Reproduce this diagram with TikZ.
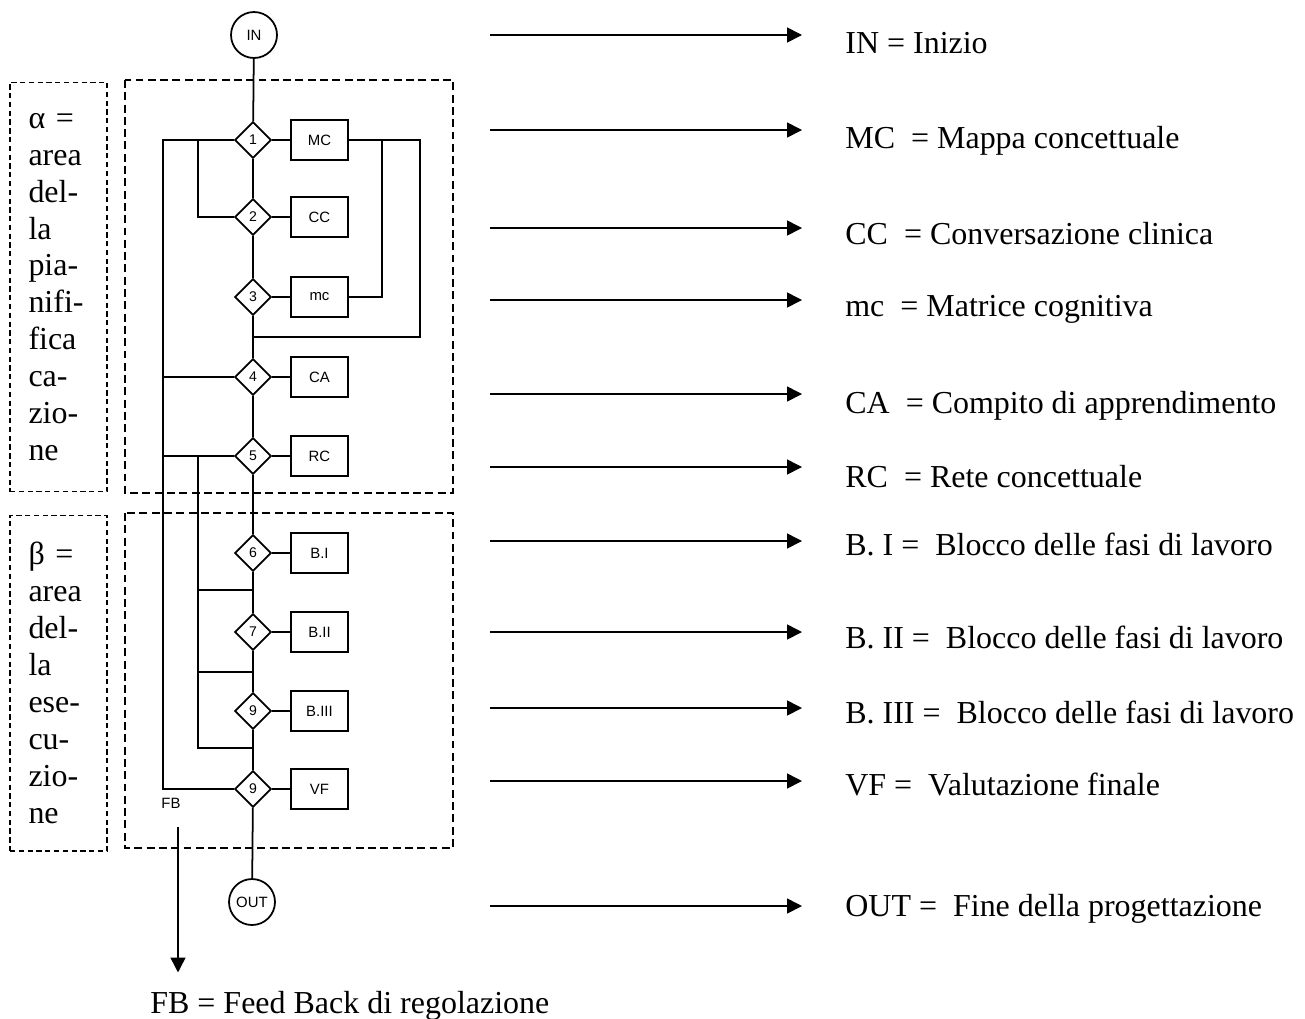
\documentclass[tikz,border=0pt]{standalone}
\usepackage{fontspec}
\setmainfont{Liberation Serif}
\setsansfont{Liberation Sans}
\usepackage{tikz}
\usetikzlibrary{shapes.geometric,arrows.meta,positioning,calc}

\begin{document}
\begin{tikzpicture}[
  x=0.02cm, y=-0.02cm,
  font=\fontsize{18.2}{21}\selectfont,
  node distance=0.36cm,
  line/.style={line width=1pt},
  area/.style={line width=1pt,dash pattern=on 4.5pt off 2.5pt},
  areabox/.style={draw,line width=0.6pt,dash pattern=on 3pt off 2pt,minimum width=1.94cm,text width=1.2cm,align=left,inner sep=0pt},
  dec/.style={draw,diamond,line width=1pt,minimum width=0.73cm,minimum height=0.73cm,inner sep=0pt,font=\sffamily\fontsize{8}{9}\selectfont},
  act/.style={draw,line width=1pt,minimum width=1.14cm,minimum height=0.8cm,inner sep=0pt,font=\sffamily\fontsize{8.5}{9}\selectfont},
  term/.style={draw,circle,line width=1pt,minimum size=0.92cm,inner sep=0pt,font=\sffamily\fontsize{8.5}{9}\selectfont},
  legend/.style={anchor=base west,inner sep=0pt},
  arrow/.style={-{Triangle[length=8.5pt,width=8.5pt]},line width=0.9pt},
]
\useasboundingbox (0,0) rectangle (1305,1018);

% areas
\node[areabox,minimum height=8.2cm] (alpha) at (58.5,287) {α =\\area\\del-\\la\\pia-\\nifi-\\fica\\ca-\\zio-\\ne};
\node[areabox,minimum height=6.72cm] (beta) at (58.5,683) {β =\\area\\del-\\la\\ese-\\cu-\\zio-\\ne};
\draw[area] (125,80) rectangle (453,493);
\draw[area] (125,513) rectangle (453,848);

% flow chart
\node[term] (in) at (254,35) {IN};
\node[dec] (d1) at (253,140) {1};
\node[dec] (d2) at (253,217) {2};
\node[dec] (d3) at (253,297) {3};
\node[dec] (d4) at (253,377) {4};
\node[dec] (d5) at (253,456) {5};
\node[dec] (d6) at (253,553) {6};
\node[dec] (d7) at (253,632) {7};
\node[dec] (d8) at (253,711) {9};
\node[dec] (d9) at (253,789) {9};
\node[term] (out) at (252,902) {OUT};

\node[act, right=of d1] (b1) {MC};
\node[act, right=of d2] (b2) {CC};
\node[act, right=of d3] (b3) {mc};
\node[act, right=of d4] (b4) {CA};
\node[act, right=of d5] (b5) {RC};
\node[act, right=of d6] (b6) {B.I};
\node[act, right=of d7] (b7) {B.II};
\node[act, right=of d8] (b8) {B.III};
\node[act, right=of d9] (b9) {VF};

\draw[line] (in) -- (d1) -- (d2) -- (d3) -- (d4) -- (d5) -- (d6) -- (d7) -- (d8) -- (d9) -- (out);
\draw[line] (d1) -- (b1);
\draw[line] (d2) -- (b2);
\draw[line] (d3) -- (b3);
\draw[line] (d4) -- (b4);
\draw[line] (d5) -- (b5);
\draw[line] (d6) -- (b6);
\draw[line] (d7) -- (b7);
\draw[line] (d8) -- (b8);
\draw[line] (d9) -- (b9);

% feed back lines
\coordinate (fbo) at (163,140);
\coordinate (fbi) at (198,140);
\coordinate (mco) at (420,140);
\coordinate (mci) at (382,140);
\coordinate (j3) at (253,337);
\coordinate (j6) at (253,590);
\coordinate (j7) at (253,672);
\coordinate (j8) at (253,748);
\draw[line] (d1) -- (fbo) |- (d9);
\draw[line] (fbi) |- (d2);
\draw[line] (d4) -- (d4 -| fbo);
\draw[line] (d5) -- (d5 -| fbo);
\draw[line] (d5 -| fbi) |- (j8);
\draw[line] (j6 -| fbi) -- (j6);
\draw[line] (j7 -| fbi) -- (j7);
\draw[line] (b1) -- (mco) |- (j3);
\draw[line] (mci) |- (b3);

\node[font=\sffamily\fontsize{8.5}{9}\selectfont] (fb) at (171,803) {FB};
\node[legend] (tfb) at (150,1013) {FB = Feed Back di regolazione};
\coordinate (fbs) at (178,827);
\draw[arrow,shorten >=0.36cm] (fbs) -- (fbs |- tfb.north);

% legend
\node[legend] (tin) at (845,53) {IN = Inizio};
\node[legend] (tmc) at (845,148) {MC\ \ = Mappa concettuale};
\node[legend] (tcc) at (845,244) {CC\ \ = Conversazione clinica};
\node[legend] (tmm) at (845,316) {mc\ \ = Matrice cognitiva};
\node[legend] (tca) at (845,413) {CA\ \ = Compito di apprendimento};
\node[legend] (trc) at (845,487) {RC\ \ = Rete concettuale};
\node[legend] (tb1) at (845,555) {B. I =\ \ Blocco delle fasi di lavoro};
\node[legend] (tb2) at (845,648) {B. II =\ \ Blocco delle fasi di lavoro};
\node[legend] (tb3) at (845,723) {B. III =\ \ Blocco delle fasi di lavoro};
\node[legend] (tvf) at (845,795) {VF =\ \ Valutazione finale};
\node[legend] (tout) at (845,916) {OUT =\ \ Fine della progettazione};

\coordinate (a1) at (490,35);
\coordinate (a2) at (490,130);
\coordinate (a3) at (490,228);
\coordinate (a4) at (490,300);
\coordinate (a5) at (490,394);
\coordinate (a6) at (490,467);
\coordinate (a7) at (490,541);
\coordinate (a8) at (490,632);
\coordinate (a9) at (490,708);
\coordinate (a10) at (490,781);
\coordinate (a11) at (490,906);
\draw[arrow,shorten >=0.86cm] (a1) -- (a1 -| tin.west);
\draw[arrow,shorten >=0.86cm] (a2) -- (a2 -| tmc.west);
\draw[arrow,shorten >=0.86cm] (a3) -- (a3 -| tcc.west);
\draw[arrow,shorten >=0.86cm] (a4) -- (a4 -| tmm.west);
\draw[arrow,shorten >=0.86cm] (a5) -- (a5 -| tca.west);
\draw[arrow,shorten >=0.86cm] (a6) -- (a6 -| trc.west);
\draw[arrow,shorten >=0.86cm] (a7) -- (a7 -| tb1.west);
\draw[arrow,shorten >=0.86cm] (a8) -- (a8 -| tb2.west);
\draw[arrow,shorten >=0.86cm] (a9) -- (a9 -| tb3.west);
\draw[arrow,shorten >=0.86cm] (a10) -- (a10 -| tvf.west);
\draw[arrow,shorten >=0.86cm] (a11) -- (a11 -| tout.west);
\end{tikzpicture}
\end{document}
